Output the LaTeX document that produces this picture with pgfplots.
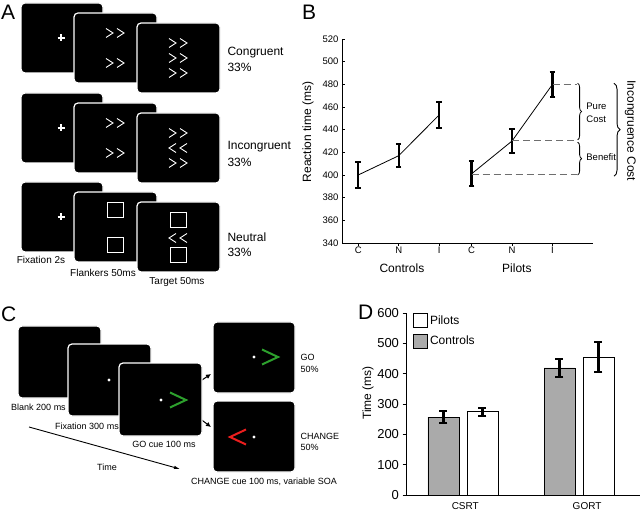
\documentclass[border=0pt]{standalone}
\usepackage{fontspec}
\setmainfont{Liberation Sans}
\usepackage{pgfplots}
\pgfplotsset{compat=1.18}
\usetikzlibrary{decorations.pathreplacing,arrows.meta}

\definecolor{cuegreen}{RGB}{45,160,45}
\definecolor{cuered}{RGB}{235,30,30}
\definecolor{bargray}{RGB}{170,170,170}
\definecolor{dashgray}{RGB}{110,110,110}

\newcommand{\fs}[1]{\fontsize{#1}{#1}\selectfont}

\tikzset{
  scr/.style={fill=black, draw=white, line width=1.2pt, rounded corners=4pt},
  chevR/.pic={\draw[white, line width=0.9pt] (-3.5,-4.5) -- (3.5,0) -- (-3.5,4.5);},
  chevL/.pic={\draw[white, line width=0.9pt] (3.5,-4.5) -- (-3.5,0) -- (3.5,4.5);},
  plus/.pic={\draw[white, line width=1.5pt] (-3.5,0) -- (3.5,0) (0,-3.5) -- (0,3.5);},
  sq/.pic={\draw[white, line width=1pt] (-8,-7.5) rectangle (8,7.5);},
  bigR/.pic={\draw[cuegreen, line width=2pt] (-8,-7.5) -- (8,0) -- (-8,7.5);},
  bigL/.pic={\draw[cuered, line width=2pt] (8,-7.5) -- (-8,0) -- (8,7.5);},
  dot/.pic={\fill[white] (0,0) circle (1.6);},
}
\newcommand{\RR}[2]{\pic at (#1-5.5,#2) {chevR}; \pic at (#1+5.5,#2) {chevR};}
\newcommand{\LL}[2]{\pic at (#1-5.5,#2) {chevL}; \pic at (#1+5.5,#2) {chevL};}
\newcommand{\screens}[1]{%
  \draw[scr] (21,#1) rectangle ++(82,70);
  \draw[scr] (74,#1+10) rectangle ++(83,70);
  \draw[scr] (137,#1+20) rectangle ++(83,70);
  \pic at (61,#1+35) {plus};}

\pgfplotsset{
  ebars/.style={error bars/.cd, y dir=both, y explicit,
    error bar style={line width=2.2pt, solid, black},
    error mark options={rotate=90, mark size=#1, line width=2pt, black}},
}

\begin{document}
\begin{tikzpicture}
\path[use as bounding box] (0,0) rectangle (640pt,512pt);

% ---- schematic panels A and C (pixel coordinates, y down)
\begin{scope}[x=1pt, y=-1pt, yshift=512pt]
  \node[anchor=base west, inner sep=0, font=\fs{21}] at (1,20) {A};
  \node[anchor=base west, inner sep=0, font=\fs{21}] at (302,20) {B};
  \node[anchor=base west, inner sep=0, font=\fs{21}] at (1,322) {C};
  \node[anchor=base west, inner sep=0, font=\fs{21}] at (358,320) {D};

  % congruent
  \screens{3}
  \RR{115}{33} \RR{115}{63}
  \RR{178}{43} \RR{178}{58} \RR{178}{73}
  \node[anchor=west, font=\fs{12}] at (224,53) {Congruent};
  \node[anchor=west, font=\fs{12}] at (224,67) {33\%};
  % incongruent
  \screens{93}
  \RR{115}{123} \RR{115}{153}
  \RR{178}{133} \LL{178}{148} \RR{178}{163}
  \node[anchor=west, font=\fs{12}] at (224,147) {Incongruent};
  \node[anchor=west, font=\fs{12}] at (224,162) {33\%};
  % neutral
  \screens{182}
  \pic at (115,210.5) {sq}; \pic at (115,245.5) {sq};
  \pic at (178,220.5) {sq}; \LL{178}{238} \pic at (178,255.5) {sq};
  \node[anchor=west, font=\fs{12}] at (224,237) {Neutral};
  \node[anchor=west, font=\fs{12}] at (224,252) {33\%};
  \node[font=\fs{10}] at (41,260) {Fixation 2s};
  \node[font=\fs{10}] at (103,273) {Flankers 50ms};
  \node[font=\fs{10}] at (177,282) {Target 50ms};

  % panel C
  \draw[scr] (18,326) rectangle (101,398);
  \draw[scr] (68,344) rectangle (151,416);
  \pic at (109,380) {dot};
  \draw[-{Latex[length=5pt,width=5pt]}, line width=1pt] (199,382) -- (211,374);
  \draw[-{Latex[length=5pt,width=5pt]}, line width=1pt] (199,418) -- (211,427);
  \draw[scr] (119,363) rectangle (202,436);
  \pic at (161,400) {dot}; \pic at (178,400) {bigR};
  \draw[scr] (213,322) rectangle (295,393);
  \pic at (254,357) {dot}; \pic at (270,357) {bigR};
  \draw[scr] (213,401) rectangle (295,472);
  \pic at (254,437) {dot}; \pic at (238,437) {bigL};
  \node[font=\fs{9}] at (38.5,407) {Blank 200 ms};
  \node[font=\fs{9}] at (87,426) {Fixation 300 ms};
  \node[font=\fs{9}] at (164,444) {GO cue 100 ms};
  \node[font=\fs{9}] at (107,467) {Time};
  \draw[line width=0.9pt, -{Latex[length=6pt,width=3.5pt]}] (29,427) -- (180,469);
  \node[font=\fs{9}] at (264,482) {CHANGE cue 100 ms, variable SOA};
  \node[anchor=west, font=\fs{9}] at (297,357) {GO};
  \node[anchor=west, font=\fs{9}] at (297,369) {50\%};
  \node[anchor=west, font=\fs{9}] at (297,436) {CHANGE};
  \node[anchor=west, font=\fs{9}] at (297,447) {50\%};
\end{scope}

% ---- panel B
\begin{axis}[
  at={(342pt,269pt)}, anchor=south west,
  scale only axis, width=251pt, height=204pt,
  xmin=-0.4, xmax=5.8, ymin=340, ymax=520,
  axis x line*=bottom, axis y line*=left,
  axis line style={-, line width=0.7pt},
  ytick={340,360,...,520},
  xtick={0,1,2,2.8,3.8,4.8}, xticklabels={C,N,I,C,N,I},
  tick align=inside, major tick length=3pt,
  tick style={black, line width=0.6pt},
  xtick style={yshift=-3pt},
  ticklabel style={font=\fs{9.5}},
  /pgf/number format/assume math mode=true,
  ylabel={Reaction time (ms)},
  ylabel style={font=\fs{12}, at={(rel axis cs:-0.135,0.545)}, anchor=center},
  clip=false,
]
\addplot[black, line width=0.8pt, mark=none, ebars=2.8pt]
  coordinates {(0,400) +- (0,11.5) (1,417) +- (0,10) (2,453) +- (0,11.5)};
\addplot[black, line width=0.8pt, mark=none, ebars=2.8pt]
  coordinates {(2.8,401) +- (0,11) (3.8,430) +- (0,11) (4.8,480) +- (0,11)};
\addplot[dashgray, line width=1pt, dash pattern=on 7pt off 4pt] coordinates {(2.8,400) (5.4,400)};
\addplot[dashgray, line width=1pt, dash pattern=on 7pt off 4pt] coordinates {(3.8,430) (5.4,430)};
\addplot[dashgray, line width=1pt, dash pattern=on 7pt off 4pt] coordinates {(4.8,480) (5.4,480)};
\draw[decorate, decoration={brace, amplitude=4pt}, line width=0.8pt] (axis cs:5.42,481) -- (axis cs:5.42,431);
\draw[decorate, decoration={brace, amplitude=4pt}, line width=0.8pt] (axis cs:5.42,429) -- (axis cs:5.42,400);
\draw[decorate, decoration={brace, amplitude=6pt}, line width=0.9pt] (axis cs:6.32,481) -- (axis cs:6.32,399);
\node[anchor=west, align=left, font=\fontsize{9.5}{12.5}\selectfont] at (axis cs:5.55,455) {Pure\\Cost};
\node[anchor=west, font=\fs{9.5}] at (axis cs:5.55,416) {Benefit};
\node[rotate=-90, font=\fs{12}] at (axis cs:6.72,439) {Incongruence Cost};
\node[font=\fs{12}, yshift=-25pt] at (axis cs:1.08,340) {Controls};
\node[font=\fs{12}, yshift=-25pt] at (axis cs:3.92,340) {Pilots};
\end{axis}

% ---- panel D
\begin{axis}[
  at={(406pt,17pt)}, anchor=south west,
  scale only axis, width=234pt, height=182pt,
  xmin=0.509, xmax=2.526, ymin=0, ymax=600,
  axis x line*=bottom, axis y line*=left,
  axis line style={-, line width=0.7pt},
  ytick={0,100,...,600},
  xtick={1.02,2.07}, xticklabels={CSRT,GORT},
  x tick label style={font=\fs{10}},
  y tick label style={font=\fs{13}},
  xtick style={draw=none},
  tick align=outside, major tick length=3.5pt,
  tick style={black, line width=0.6pt},
  /pgf/number format/assume math mode=true,
  ybar, bar width=0.267, bar shift=0pt,
  ylabel={Time (ms)},
  ylabel style={font=\fs{12}, at={(rel axis cs:-0.162,0.56)}, anchor=center},
  legend style={at={(0.03,1.0)}, anchor=north west, draw=none, fill=none,
    inner sep=0pt, row sep=6pt, font=\fs{12}},
  legend cell align=left,
  legend image code/.code={\draw[#1] (0pt,-7pt) rectangle (14pt,7pt);},
  clip=false,
]
\addplot[draw=black, fill=white, line width=0.8pt, ebars=4pt]
  coordinates {(1.168,274) +- (0,12) (2.168,455) +- (0,50)};
\addlegendentry{Pilots}
\addplot[draw=black, fill=bargray, line width=0.8pt, ebars=4pt]
  coordinates {(0.832,257) +- (0,21) (1.832,419) +- (0,30)};
\addlegendentry{Controls}
\end{axis}
\end{tikzpicture}
\end{document}
